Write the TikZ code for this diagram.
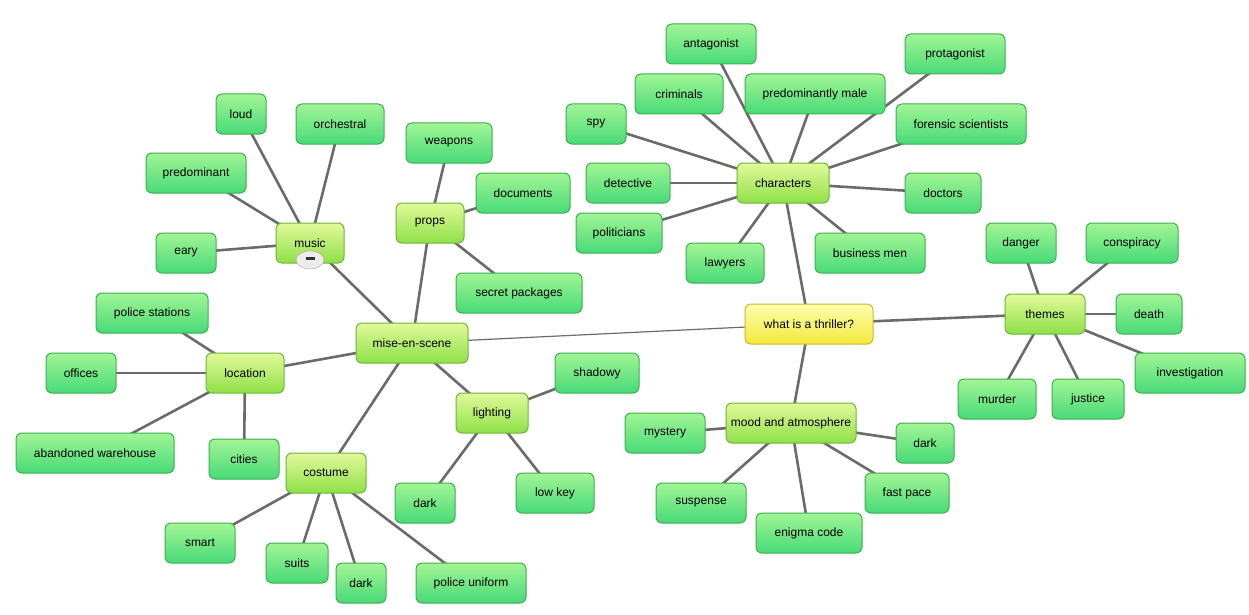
\documentclass[tikz,border=0pt]{standalone}
\usepackage{fontspec}
\setmainfont{Liberation Sans}
\usetikzlibrary{backgrounds,shapes.geometric}
\definecolor{lgtop}{HTML}{A2F595}
\definecolor{lgbot}{HTML}{48DA78}
\definecolor{lgbd}{HTML}{3DAF4E}
\definecolor{mgtop}{HTML}{E2F99A}
\definecolor{mgbot}{HTML}{8FE048}
\definecolor{mgbd}{HTML}{6AB83A}
\definecolor{ytop}{HTML}{FFFFB0}
\definecolor{ybot}{HTML}{F2E83A}
\definecolor{ybd}{HTML}{C8B830}
\definecolor{edge}{HTML}{6B6B6B}
\tikzset{
 box/.style={rounded corners=6pt, minimum height=40pt, inner sep=2pt, font=\fontsize{12}{14}\selectfont, line width=1pt},
 leaf/.style={box, draw=lgbd, top color=lgtop, bottom color=lgbot},
 mid/.style={box, draw=mgbd, top color=mgtop, bottom color=mgbot},
 root/.style={box, draw=ybd, top color=ytop, bottom color=ybot},
 conn/.style={draw=edge, line width=2.6pt},
 thin/.style={draw=edge, line width=1.2pt}
}
\begin{document}
\begin{tikzpicture}[x=1pt,y=-1pt]
\useasboundingbox (0,0) rectangle (1249,615);
\node[root,minimum width=128pt] (r) at (809,324) {what is a thriller?};
\node[mid,minimum width=92pt] (ch) at (783,183) {characters};
\node[mid,minimum width=112pt] (ms) at (412,343) {mise-en-scene};
\node[mid,minimum width=80pt] (th) at (1045,314) {themes};
\node[mid,minimum width=130pt] (mo) at (791,423) {mood and atmosphere};
\node[mid,minimum width=68pt] (mu) at (310,243) {music};
\node[mid,minimum width=68pt] (pr) at (430,223) {props};
\node[mid,minimum width=78pt] (lo) at (245,373) {location};
\node[mid,minimum width=72pt] (li) at (492,413) {lighting};
\node[mid,minimum width=80pt] (co) at (326,473) {costume};
% character leaves
\node[leaf,minimum width=90pt] (c1) at (711,44) {antagonist};
\node[leaf,minimum width=100pt] (c2) at (955,54) {protagonist};
\node[leaf,minimum width=88pt] (c3) at (679,94) {criminals};
\node[leaf,minimum width=140pt] (c4) at (815,94) {predominantly male};
\node[leaf,minimum width=60pt] (c5) at (596,124) {spy};
\node[leaf,minimum width=130pt] (c6) at (961,124) {forensic scientists};
\node[leaf,minimum width=84pt] (c7) at (628,183) {detective};
\node[leaf,minimum width=76pt] (c8) at (943,193) {doctors};
\node[leaf,minimum width=86pt] (c9) at (619,233) {politicians};
\node[leaf,minimum width=78pt] (c10) at (725,263) {lawyers};
\node[leaf,minimum width=110pt] (c11) at (870,253) {business men};
% themes
\node[leaf,minimum width=70pt] (t1) at (1021,243) {danger};
\node[leaf,minimum width=92pt] (t2) at (1132,243) {conspiracy};
\node[leaf,minimum width=66pt] (t3) at (1149,314) {death};
\node[leaf,minimum width=110pt] (t4) at (1190,373) {investigation};
\node[leaf,minimum width=78pt] (t5) at (997,399) {murder};
\node[leaf,minimum width=72pt] (t6) at (1088,399) {justice};
% mood
\node[leaf,minimum width=80pt] (m1) at (665,433) {mystery};
\node[leaf,minimum width=58pt] (m2) at (925,443) {dark};
\node[leaf,minimum width=90pt] (m3) at (701,503) {suspense};
\node[leaf,minimum width=84pt] (m4) at (907,493) {fast pace};
\node[leaf,minimum width=106pt] (m5) at (809,533) {enigma code};
% music
\node[leaf,minimum width=50pt] (u1) at (241,114) {loud};
\node[leaf,minimum width=88pt] (u2) at (340,124) {orchestral};
\node[leaf,minimum width=100pt] (u3) at (196,173) {predominant};
\node[leaf,minimum width=60pt] (u4) at (186,253) {eary};
% props
\node[leaf,minimum width=86pt] (p1) at (449,143) {weapons};
\node[leaf,minimum width=94pt] (p2) at (523,193) {documents};
\node[leaf,minimum width=126pt] (p3) at (519,293) {secret packages};
% location
\node[leaf,minimum width=112pt] (l1) at (152,313) {police stations};
\node[leaf,minimum width=70pt] (l2) at (81,373) {offices};
\node[leaf,minimum width=158pt] (l3) at (95,453) {abandoned warehouse};
\node[leaf,minimum width=70pt] (l4) at (244,459) {cities};
% lighting
\node[leaf,minimum width=84pt] (g1) at (597,373) {shadowy};
\node[leaf,minimum width=60pt] (g2) at (425,503) {dark};
\node[leaf,minimum width=78pt] (g3) at (555,493) {low key};
% costume
\node[leaf,minimum width=70pt] (o1) at (200,543) {smart};
\node[leaf,minimum width=62pt] (o2) at (297,563) {suits};
\node[leaf,minimum width=50pt] (o3) at (361,583) {dark};
\node[leaf,minimum width=110pt] (o4) at (471,583) {police uniform};
% collapse button
\node[ellipse,draw=gray!70,fill=gray!15,minimum width=28pt,minimum height=18pt,inner sep=0pt] (btn) at (310,260) {\textcolor{black!80}{\rule[3pt]{9pt}{2.2pt}}};
\begin{scope}[on background layer]
\draw[thin] (r.center) -- (ms.center);
\foreach \a in {ch,th,mo} \draw[conn] (r.center) -- (\a.center);
\foreach \a in {c1,c2,c3,c4,c5,c6,c7,c8,c9,c10,c11} \draw[conn] (ch.center) -- (\a.center);
\foreach \a in {t1,t2,t3,t4,t5,t6} \draw[conn] (th.center) -- (\a.center);
\foreach \a in {m1,m2,m3,m4,m5} \draw[conn] (mo.center) -- (\a.center);
\foreach \a in {mu,pr,lo,li,co} \draw[conn] (ms.center) -- (\a.center);
\foreach \a in {u1,u2,u3,u4} \draw[conn] (mu.center) -- (\a.center);
\foreach \a in {p1,p2,p3} \draw[conn] (pr.center) -- (\a.center);
\foreach \a in {l1,l2,l3,l4} \draw[conn] (lo.center) -- (\a.center);
\foreach \a in {g1,g2,g3} \draw[conn] (li.center) -- (\a.center);
\foreach \a in {o1,o2,o3,o4} \draw[conn] (co.center) -- (\a.center);
\end{scope}
\end{tikzpicture}
\end{document}
